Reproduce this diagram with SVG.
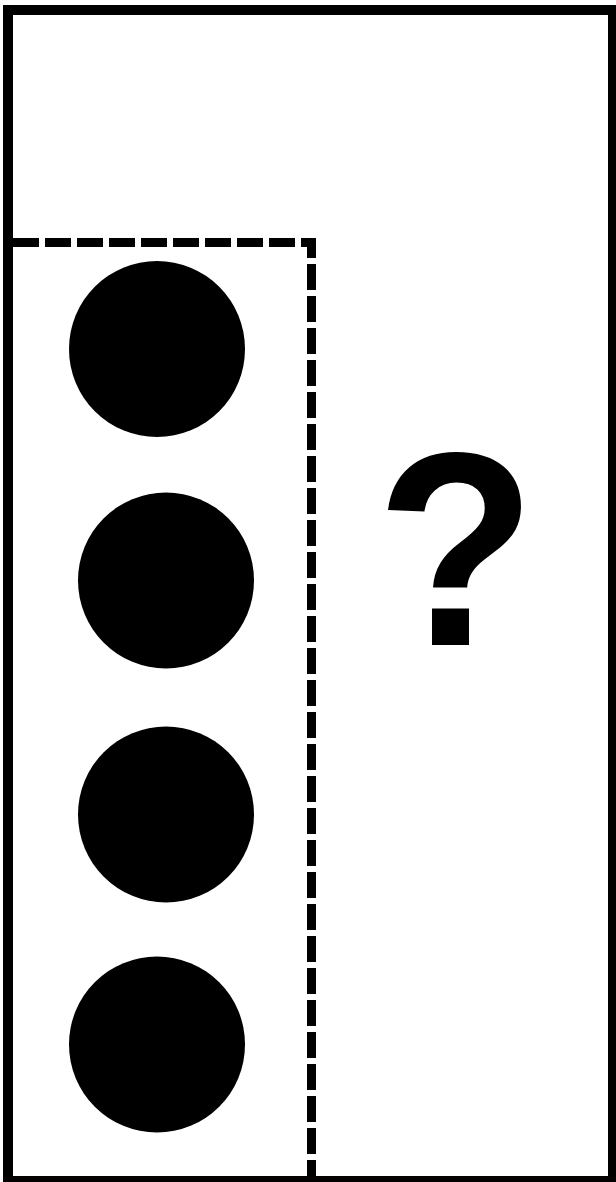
<svg xmlns="http://www.w3.org/2000/svg" width="616" height="1182" viewBox="0 0 616 1182">
<style>
.frame{fill:none;stroke:#000;stroke-width:10}
.dash{fill:none;stroke:#000;stroke-width:9;stroke-dasharray:26 6}
.dot{fill:#000}
.q{font-family:"Liberation Sans",Arial,sans-serif;font-weight:bold;font-size:262px;fill:#000}
</style>
<rect width="616" height="1182" fill="#fff"/>
<g id="frame"><rect class="frame" x="8" y="10" width="605" height="1171"/></g>
<g id="connectors"><path class="dash" d="M13 242.5 H311.5 V1182"/></g>
<g id="circle1"><circle class="dot" cx="157" cy="349" r="88"/></g>
<g id="circle2"><circle class="dot" cx="166" cy="580.5" r="88"/></g>
<g id="circle3"><circle class="dot" cx="166" cy="814.5" r="88"/></g>
<g id="circle4"><circle class="dot" cx="157" cy="1044.5" r="88"/></g>
<g id="question"><text class="q" transform="translate(456,645) scale(1,1.055)" x="0" y="0" text-anchor="middle">?</text></g>
</svg>
